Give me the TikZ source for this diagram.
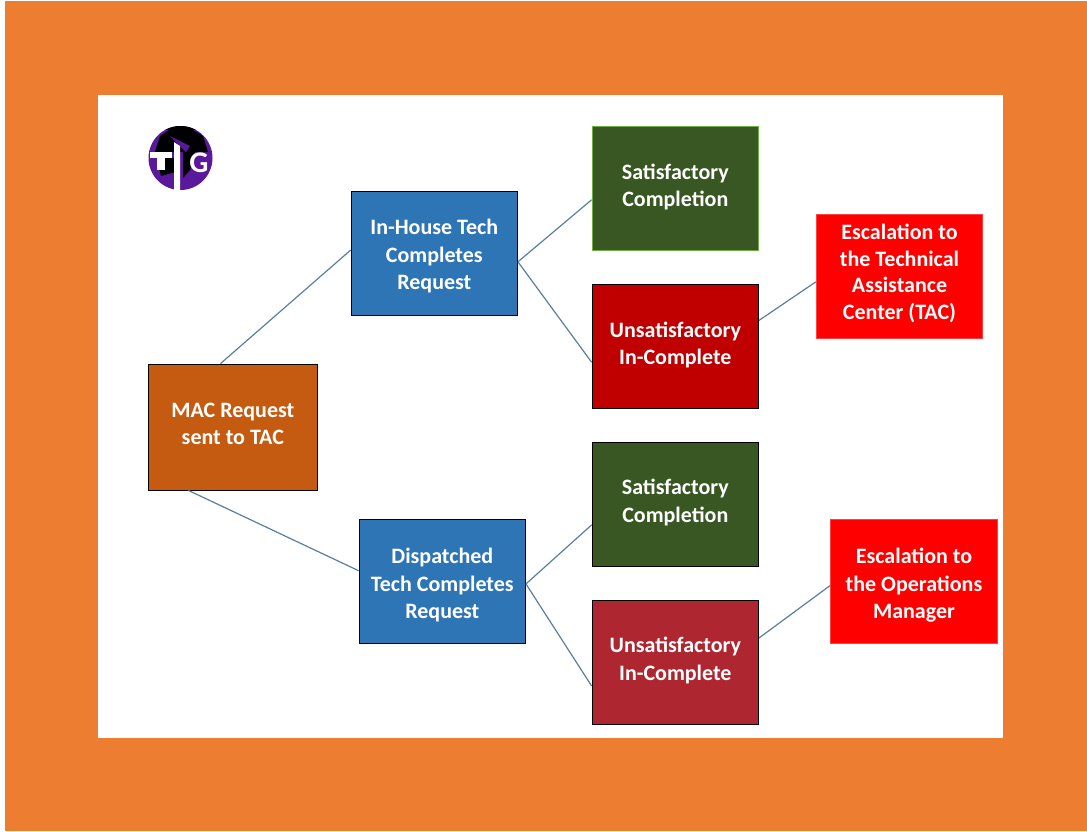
\documentclass[tikz,border=0pt]{standalone}
\usepackage{fontspec}
\setmainfont{Carlito}
\tikzset{
    taskbox/.style={draw=black, line width=0.8pt, minimum width=166.5pt, minimum height=124pt, inner sep=0pt},
    boxtext/.style={align=center, text=white, inner sep=0pt, font=\fontsize{22}{27.5}\selectfont\bfseries},
    link/.style={draw=linkblue, line width=1.2pt}
}
\definecolor{pageorange}{HTML}{ED7D31}
\definecolor{macbrown}{HTML}{C55A11}
\definecolor{techblue}{HTML}{2E75B6}
\definecolor{okgreen}{HTML}{385723}
\definecolor{okedge}{HTML}{70AD47}
\definecolor{faildark}{HTML}{C00000}
\definecolor{failsoft}{HTML}{AE2730}
\definecolor{linkblue}{HTML}{5A7F9F}
\definecolor{logopurple}{HTML}{5A189A}
\begin{document}
\begin{tikzpicture}[x=1pt,y=-1pt]
    \useasboundingbox (0,0) rectangle (1087,831);
    \fill[pageorange] (5,1) rectangle (1087,831);
    \fill[white] (98,95) rectangle (1003,738);

    % logo
    \fill[logopurple] (180.5,158) circle (32);
    \begin{scope}
        \clip (180.5,158) circle (32);
        \fill[black] (155,152) -- (160,136) -- (172,128) -- (190,128) -- (203,136) -- (208,152) -- cycle;
        \fill[black] (148,120) rectangle (213,130);
        \fill[black] (157,158) -- (176,158) -- (176,172) -- (161,176) -- cycle;
        \fill[black] (183,152) -- (195,152) -- (190,170) -- (183,178) -- cycle;
    \end{scope}
    \fill[logopurple] (170,136) -- (190,146) -- (186,152) -- (180,146) -- cycle;
    \fill[white] (150,152) rectangle (172,158);
    \fill[white] (157,158) rectangle (165,170);
    \fill[white] (174,142) -- (180,146) -- (180,190) -- (174,190) -- cycle;
    \node[text=white, inner sep=0pt, font=\fontsize{30}{30}\selectfont\bfseries] (logoG) at (199,163) {G};

    % boxes
    \node[taskbox, fill=macbrown, minimum width=169.5pt, minimum height=126pt,
        label={[boxtext, yshift=3]center:{MAC Request\\sent to TAC}}] (mac) at (232.8,427) {};
    \node[taskbox, fill=techblue,
        label={[boxtext, yshift=-3.5]center:{In-House Tech\\Completes\\Request}}] (inhouse) at (434.3,253) {};
    \node[taskbox, fill=techblue,
        label={[boxtext, yshift=-4]center:{Dispatched\\Tech Completes\\Request}}] (dispatched) at (442.3,581) {};
    \node[taskbox, fill=okgreen, draw=okedge,
        label={[boxtext, yshift=1]center:{Satisfactory\\Completion}}] (okA) at (675.3,188) {};
    \node[taskbox, fill=faildark,
        label={[boxtext, yshift=1]center:{Unsatisfactory\\In-Complete}}] (failA) at (675.3,346) {};
    \node[taskbox, fill=okgreen,
        label={[boxtext, yshift=1.5]center:{Satisfactory\\Completion}}] (okB) at (675.3,504) {};
    \node[taskbox, fill=failsoft,
        label={[boxtext, yshift=1.5]center:{Unsatisfactory\\In-Complete}}] (failB) at (675.3,662) {};
    \node[taskbox, fill=red, draw=red!75!white,
        label={[boxtext, yshift=2.5, font=\fontsize{22}{26.7}\selectfont\bfseries]center:{Escalation to\\the Technical\\Assistance\\Center (TAC)}}] (escTAC) at (899.5,276) {};
    \node[taskbox, fill=red, draw=red!75!white,
        label={[boxtext, yshift=-4.5]center:{Escalation to\\the Operations\\Manager}}] (escOps) at (914,581) {};

    % connectors
    \draw[link] (mac.101.5) -- (inhouse.178);
    \draw[link] (mac.235.7) -- (dispatched.173.2);
    \draw[link] (inhouse.-6) -- (okA.188.8);
    \draw[link] (inhouse.-6) -- (failA.191.5);
    \draw[link] (dispatched.-2) -- (okB.194.1);
    \draw[link] (dispatched.-2) -- (failB.196);
    \draw[link] (failA.17.9) -- (escTAC.184.8);
    \draw[link] (failB.16) -- (escOps.183.4);
\end{tikzpicture}
\end{document}
